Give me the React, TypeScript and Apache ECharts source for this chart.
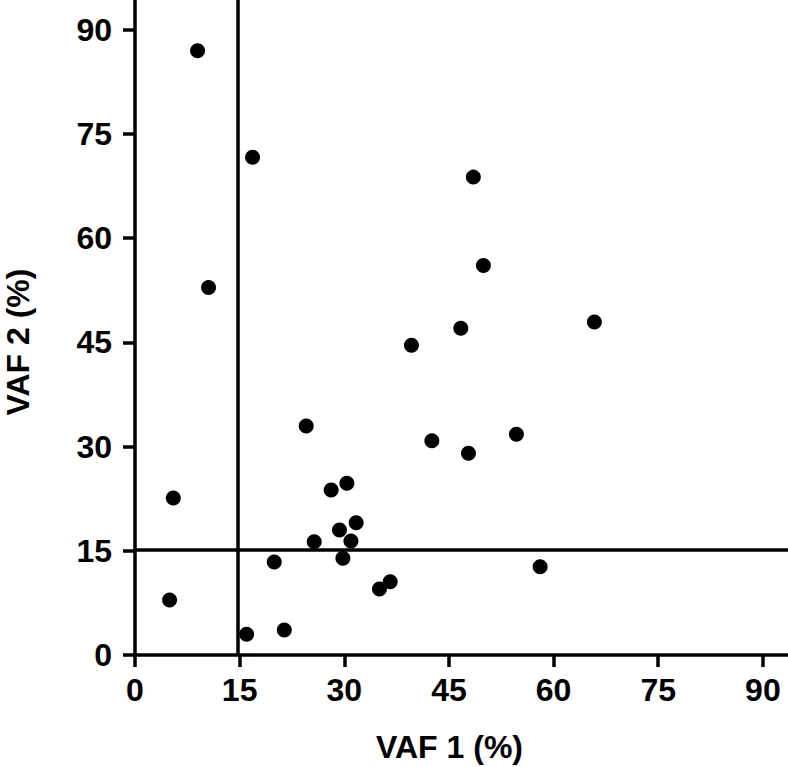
import React, { useEffect, useRef } from "react";
import * as echarts from "echarts";

const vaf1 = [8.97, 16.85, 10.54, 5.49, 4.96, 16.0, 21.4, 19.96, 24.54, 25.69, 28.12, 30.37, 29.31, 29.8, 30.95, 31.7, 35.04, 36.58, 39.63, 42.55, 46.7, 47.8, 48.5, 49.94, 54.67, 58.07, 65.85];
const vaf2 = [87.0, 71.67, 52.9, 22.6, 7.92, 2.98, 3.6, 13.4, 32.98, 16.3, 23.76, 24.73, 18.0, 13.93, 16.42, 19.05, 9.5, 10.56, 44.6, 30.86, 47.05, 29.05, 68.8, 56.06, 31.78, 12.7, 47.95];
const tickValues = [0, 15, 30, 45, 60, 75, 90];
const thresholdX = 14.7;
const thresholdY = 15.2;
const xMax = 93.6;
const yMax = 94.3;

const FONT = "'Liberation Sans', Arial, Helvetica, sans-serif";
const FS = 32;

export default function App() {
  const ref = useRef<HTMLDivElement>(null);
  useEffect(() => {
    document.body.style.margin = "0";
    const chart = echarts.init(ref.current!, null, { renderer: "svg" });
    const axisCommon = {
      type: "value",
      min: 0,
      axisLine: { show: true, lineStyle: { color: "#000", width: 3.5 } },
      axisTick: { show: true, length: 12, lineStyle: { color: "#000", width: 3.5 }, customValues: tickValues },
      splitLine: { show: false },
      nameLocation: "middle",
    };
    chart.setOption({
      animation: false,
      backgroundColor: "#fff",
      grid: { left: 135, right: 0, top: 0, bottom: 112, containLabel: false, outerBoundsMode: "none" },
      xAxis: {
        ...axisCommon,
        max: xMax,
        name: "VAF 1 (%)",
        nameGap: 76,
        nameTextStyle: { fontFamily: FONT, fontWeight: "bold", fontSize: FS, color: "#000", padding: [0, 24, 0, 0] },
        axisLabel: { margin: 19, fontFamily: FONT, fontWeight: "bold", fontSize: FS, color: "#000", customValues: tickValues },
      },
      yAxis: {
        ...axisCommon,
        max: yMax,
        name: "VAF 2 (%)",
        nameGap: 101,
        nameTextStyle: { fontFamily: FONT, fontWeight: "bold", fontSize: FS, color: "#000", padding: [0, 29, 0, 0] },
        axisLabel: { margin: 23, fontFamily: FONT, fontWeight: "bold", fontSize: FS, color: "#000", customValues: tickValues },
      },
      series: [
        {
          type: "scatter",
          symbol: "circle",
          symbolSize: 15,
          itemStyle: { color: "#000", opacity: 1 },
          data: vaf1.map((x, i) => [x, vaf2[i]]),
          markLine: {
            silent: true,
            symbol: "none",
            label: { show: false },
            lineStyle: { color: "#000", width: 3.5, type: "solid", opacity: 1 },
            emphasis: { disabled: true },
            data: [{ xAxis: thresholdX }, { yAxis: thresholdY }],
          },
        },
      ],
    });
    return () => chart.dispose();
  }, []);
  return <div ref={ref} style={{ width: 788, height: 767 }} />;
}
